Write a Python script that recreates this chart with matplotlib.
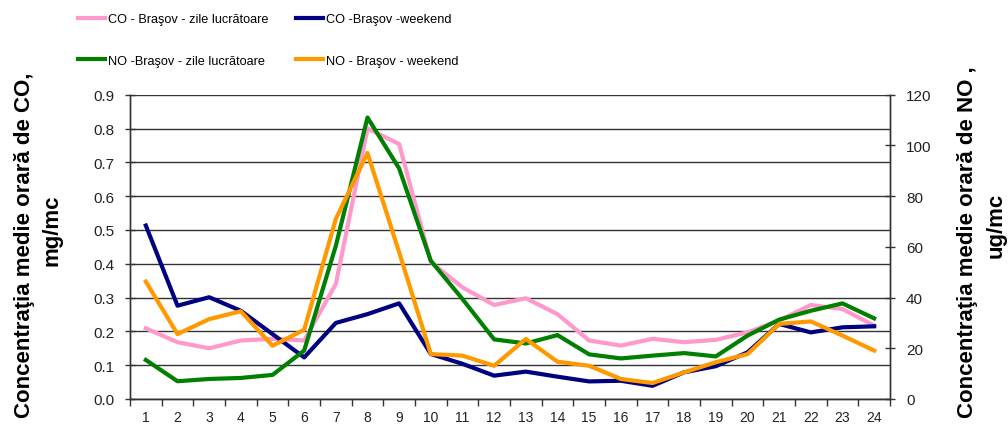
import matplotlib
matplotlib.use("Agg")
import matplotlib.pyplot as plt
from matplotlib.ticker import MultipleLocator, FixedLocator
from matplotlib.font_manager import FontProperties

plt.rcParams['font.family'] = ['Liberation Sans', 'DejaVu Sans']

hours = list(range(1, 25))
co_weekday = [0.209, 0.168, 0.150, 0.173, 0.178, 0.173, 0.340, 0.800, 0.754, 0.405, 0.330, 0.278,
              0.298, 0.251, 0.173, 0.158, 0.178, 0.168, 0.175, 0.197, 0.232, 0.278, 0.266, 0.217]
co_weekend = [0.513, 0.276, 0.301, 0.261, 0.192, 0.123, 0.225, 0.251, 0.283, 0.133, 0.104, 0.069,
              0.081, 0.066, 0.052, 0.054, 0.039, 0.079, 0.097, 0.138, 0.222, 0.197, 0.212, 0.215]
no_weekday = [15.4, 7.0, 7.9, 8.3, 9.5, 19.1, 60.4, 111.0, 90.9, 54.5, 39.4, 23.5,
              21.9, 25.2, 17.6, 16.0, 17.1, 18.1, 16.8, 25.0, 31.3, 34.8, 37.7, 31.8]
no_weekend = [46.3, 25.6, 31.5, 34.6, 21.0, 27.3, 71.0, 97.0, 57.8, 17.7, 17.1, 13.1,
              23.7, 14.7, 13.1, 7.9, 6.3, 10.5, 14.5, 17.7, 29.6, 30.6, 25.0, 19.1]

labels = ["CO - Braşov - zile lucrătoare", "CO -Braşov -weekend",
          "NO -Braşov - zile lucrătoare", "NO - Braşov - weekend"]
colors = ["#FF99CC", "#000080", "#008000", "#FF9900"]

W, H = 1008, 427
fig = plt.figure(figsize=(W / 100, H / 100), dpi=100)
ax = fig.add_axes([130 / W, 1 - 400 / H, (890 - 130) / W, (400 - 95.7) / H])
ax2 = ax.twinx()

lw = 3.0
l1, = ax.plot(hours, co_weekday, color=colors[0], lw=lw)
l2, = ax.plot(hours, co_weekend, color=colors[1], lw=lw)
l3, = ax2.plot(hours, no_weekday, color=colors[2], lw=lw)
l4, = ax2.plot(hours, no_weekend, color=colors[3], lw=lw)

ax.set_xlim(0.5, 24.5)
ax.set_ylim(0, 0.9)
ax2.set_ylim(0, 120)
ax.yaxis.set_major_locator(MultipleLocator(0.1))
ax.yaxis.set_major_formatter(matplotlib.ticker.FormatStrFormatter('%.1f'))
ax2.yaxis.set_major_locator(MultipleLocator(20))
ax.yaxis.grid(True, color='#333333', lw=1.0)
ax.set_axisbelow(True)

ax.xaxis.set_major_locator(FixedLocator(hours))
ax.set_xticklabels([str(h) for h in hours])
ax.xaxis.set_minor_locator(FixedLocator([h + 0.5 for h in range(0, 25)]))
ax.tick_params(axis='x', which='major', length=0, pad=8, labelsize=10, colors='#222222')
ax.tick_params(axis='x', which='minor', length=5, width=1, direction='out', color='#333333')
ax.tick_params(axis='y', which='major', length=7, width=1, direction='inout', pad=8,
               labelsize=11, labelcolor='#222222', color='#333333')
ax2.tick_params(axis='y', which='major', length=7, width=1, direction='inout', pad=8,
                labelsize=11, labelcolor='#222222', color='#333333')

for a in (ax, ax2):
    a.spines['top'].set_visible(False)
    for s in ('left', 'right', 'bottom'):
        a.spines[s].set_color('#333333')
        a.spines[s].set_linewidth(1.0)

lab_kw = dict(rotation=90, ha='center', va='center', fontsize=16, fontweight='bold',
              rotation_mode='anchor')
fig.text(25 / W, 1 - 245 / H, "Concentraţia medie orară de CO,", **lab_kw)
fig.text(52 / W, 1 - 230 / H, "mg/mc", **lab_kw)
fig.text(968 / W, 1 - 242 / H, "Concentraţia medie orară de NO ,", **lab_kw)
fig.text(996 / W, 1 - 225 / H, "ug/mc", **lab_kw)

leg_size = 9.2
leg_font = FontProperties(family='Liberation Sans', size=leg_size)
em = leg_size * 100 / 72
leg_kw = dict(loc='center left', frameon=False, prop=leg_font, handlelength=27 / em,
              handletextpad=3 / em, borderpad=0, borderaxespad=0,
              labelspacing=(42 - em * 0.95) / em)
lega = fig.legend([l1, l3], [labels[0], labels[2]], bbox_to_anchor=(78 / W, 1 - 41 / H), **leg_kw)
legb = fig.legend([l2, l4], [labels[1], labels[3]], bbox_to_anchor=(296 / W, 1 - 41 / H), **leg_kw)

fig.savefig("out.png", dpi=100)
